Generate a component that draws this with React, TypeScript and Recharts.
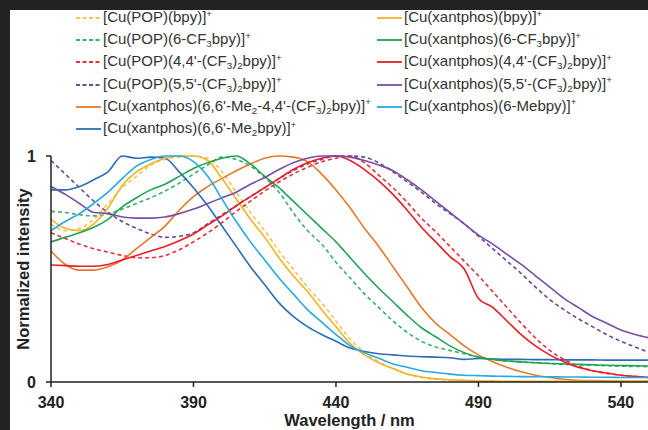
import React from "react";
import { LineChart, Line, XAxis, YAxis, Label } from "recharts";

// wavelength grid (nm)
const wavelengths = [
  340, 345, 350, 355, 360, 365, 370, 375, 380, 385, 390, 395, 400, 405, 410,
  415, 420, 425, 430, 435, 440, 445, 450, 455, 460, 465, 470, 475, 480, 485,
  490, 495, 500, 505, 510, 515, 520, 525, 530, 535, 540, 545, 550,
];

const xTicks = [340, 390, 440, 490, 540];
const yTicks = [0, 1];

// normalized intensities
const popBpy = [
  0.7, 0.67, 0.68, 0.72, 0.79, 0.86, 0.91, 0.96, 0.985, 0.995,
  1.0, 0.99, 0.93, 0.84, 0.75, 0.67, 0.58, 0.5, 0.42, 0.35,
  0.27, 0.19, 0.13, 0.09, 0.06, 0.035, 0.02, 0.012, 0.008, 0.006,
  0.004, 0.003, 0.002, 0.002, 0.002, 0.002, 0.002, 0.002, 0.002, 0.002,
  0.002, 0.002, 0.002,
];
const popCF3 = [
  0.755, 0.75, 0.74, 0.735, 0.745, 0.765, 0.79, 0.815, 0.845, 0.88,
  0.92, 0.96, 0.995, 0.985, 0.955, 0.905, 0.84, 0.75, 0.67, 0.61,
  0.53, 0.46, 0.39, 0.33, 0.27, 0.22, 0.18, 0.155, 0.14, 0.125,
  0.11, 0.1, 0.093, 0.089, 0.085, 0.082, 0.078, 0.076, 0.074, 0.072,
  0.07, 0.069, 0.068,
];
const pop44 = [
  0.66, 0.635, 0.61, 0.59, 0.575, 0.56, 0.55, 0.55, 0.56, 0.585,
  0.62, 0.66, 0.705, 0.755, 0.8, 0.845, 0.885, 0.92, 0.95, 0.975,
  0.99, 1.0, 0.97, 0.915, 0.86, 0.795, 0.725, 0.665, 0.6, 0.535,
  0.47, 0.4, 0.33, 0.26, 0.195, 0.14, 0.1, 0.07, 0.05, 0.038,
  0.03, 0.024, 0.02,
];
const pop55 = [
  0.98, 0.92, 0.86, 0.8, 0.75, 0.71, 0.68, 0.655, 0.64, 0.645,
  0.66, 0.7, 0.74, 0.78, 0.82, 0.86, 0.9, 0.935, 0.965, 0.985,
  1.0, 1.0, 0.995, 0.97, 0.93, 0.885, 0.84, 0.79, 0.745, 0.7,
  0.645, 0.59, 0.535, 0.48, 0.42, 0.365, 0.32, 0.28, 0.245, 0.21,
  0.18, 0.155, 0.13,
];
const xBpy = [
  0.72, 0.68, 0.67, 0.7, 0.77, 0.87, 0.93, 0.965, 0.99, 1.0,
  1.0, 0.98, 0.9, 0.81, 0.72, 0.64, 0.55, 0.47, 0.4, 0.32,
  0.245, 0.17, 0.12, 0.085, 0.06, 0.035, 0.022, 0.014, 0.01, 0.007,
  0.005, 0.004, 0.003, 0.003, 0.003, 0.003, 0.003, 0.003, 0.003, 0.003,
  0.003, 0.003, 0.003,
];
const xCF3 = [
  0.62, 0.64, 0.66, 0.685, 0.72, 0.775, 0.815, 0.85, 0.875, 0.91,
  0.945, 0.97, 0.99, 1.0, 0.965, 0.91, 0.86, 0.8, 0.74, 0.68,
  0.62, 0.55, 0.48, 0.415, 0.355, 0.295, 0.24, 0.2, 0.16, 0.13,
  0.11, 0.1, 0.093, 0.089, 0.085, 0.082, 0.08, 0.078, 0.076, 0.074,
  0.073, 0.072, 0.071,
];
const x44 = [
  0.518, 0.515, 0.512, 0.512, 0.52, 0.54, 0.56, 0.58, 0.6, 0.625,
  0.655, 0.695, 0.735, 0.78, 0.82, 0.86, 0.9, 0.94, 0.97, 0.99,
  1.0, 0.98, 0.94, 0.89, 0.83, 0.76, 0.685, 0.62, 0.555, 0.5,
  0.37, 0.33, 0.27, 0.21, 0.16, 0.12, 0.09, 0.065, 0.05, 0.04,
  0.03, 0.025, 0.02,
];
const x55 = [
  0.865, 0.83, 0.79, 0.75, 0.745, 0.73, 0.725, 0.725, 0.73, 0.745,
  0.765, 0.79, 0.815, 0.84, 0.875, 0.905, 0.94, 0.97, 0.99, 1.0,
  1.0, 0.995, 0.98, 0.96, 0.935, 0.895, 0.85, 0.8, 0.75, 0.7,
  0.65, 0.61, 0.565, 0.52, 0.47, 0.42, 0.37, 0.33, 0.29, 0.26,
  0.23, 0.21, 0.195,
];
const xMe2CF3 = [
  0.58, 0.52, 0.495, 0.495, 0.51, 0.54, 0.59, 0.64, 0.69, 0.76,
  0.82, 0.865, 0.9, 0.935, 0.965, 0.99, 1.0, 0.995, 0.975, 0.92,
  0.85, 0.77, 0.68, 0.6, 0.51, 0.42, 0.33, 0.26, 0.21, 0.16,
  0.12, 0.09, 0.065, 0.045, 0.03, 0.02, 0.012, 0.008, 0.006, 0.005,
  0.004, 0.003, 0.003,
];
const xMebpy = [
  0.67, 0.71, 0.745, 0.79, 0.84, 0.9, 0.955, 0.985, 1.0, 1.0,
  0.975, 0.91, 0.81, 0.71, 0.62, 0.54, 0.46, 0.39, 0.32, 0.265,
  0.21, 0.16, 0.13, 0.105, 0.08, 0.065, 0.05, 0.042, 0.035, 0.03,
  0.028, 0.026, 0.025, 0.024, 0.023, 0.023, 0.022, 0.022, 0.021, 0.021,
  0.02, 0.02, 0.02,
];
const xMe2 = [
  0.85, 0.85, 0.865, 0.895, 0.93, 1.0, 0.99, 0.995, 0.99, 0.93,
  0.86, 0.78, 0.69, 0.6, 0.51, 0.43, 0.35, 0.29, 0.245, 0.21,
  0.18, 0.15, 0.135, 0.125, 0.12, 0.115, 0.112, 0.11, 0.107, 0.1,
  0.104, 0.102, 0.1, 0.1, 0.099, 0.099, 0.098, 0.098, 0.098, 0.097,
  0.097, 0.097, 0.097,
];

type Series = {
  key: string;
  label: string; // _x = subscript, ^x = superscript
  color: string;
  dashed: boolean;
  values: number[];
};

const series: Series[] = [
  { key: "popBpy", label: "[Cu(POP)(bpy)]^+", color: "#f6c35a", dashed: true, values: popBpy },
  { key: "popCF3", label: "[Cu(POP)(6-CF_3bpy)]^+", color: "#3cad6c", dashed: true, values: popCF3 },
  { key: "pop44", label: "[Cu(POP)(4,4'-(CF_3)_2bpy)]^+", color: "#e62f3d", dashed: true, values: pop44 },
  { key: "pop55", label: "[Cu(POP)(5,5'-(CF_3)_2bpy)]^+", color: "#674a96", dashed: true, values: pop55 },
  { key: "xMe2CF3", label: "[Cu(xantphos)(6,6'-Me_2-4,4'-(CF_3)_2bpy)]^+", color: "#e6782b", dashed: false, values: xMe2CF3 },
  { key: "xMe2", label: "[Cu(xantphos)(6,6'-Me_2bpy)]^+", color: "#2d6cb3", dashed: false, values: xMe2 },
  { key: "xBpy", label: "[Cu(xantphos)(bpy)]^+", color: "#f0b425", dashed: false, values: xBpy },
  { key: "xCF3", label: "[Cu(xantphos)(6-CF_3bpy)]^+", color: "#1ea453", dashed: false, values: xCF3 },
  { key: "x44", label: "[Cu(xantphos)(4,4'-(CF_3)_2bpy)]^+", color: "#ec1c26", dashed: false, values: x44 },
  { key: "x55", label: "[Cu(xantphos)(5,5'-(CF_3)_2bpy)]^+", color: "#7a4da2", dashed: false, values: x55 },
  { key: "xMebpy", label: "[Cu(xantphos)(6-Mebpy)]^+", color: "#27a9e1", dashed: false, values: xMebpy },
];

const leftKeys = ["popBpy", "popCF3", "pop44", "pop55", "xMe2CF3", "xMe2"];
const rightKeys = ["xBpy", "xCF3", "x44", "x55", "xMebpy"];

const data = wavelengths.map((w, i) => {
  const row: Record<string, number> = { w };
  series.forEach((s) => {
    row[s.key] = s.values[i];
  });
  return row;
});

function richLabel(text: string) {
  const parts: React.ReactNode[] = [];
  let buf = "";
  for (let i = 0; i < text.length; i++) {
    const c = text[i];
    if ((c === "_" || c === "^") && i + 1 < text.length) {
      if (buf) parts.push(buf);
      buf = "";
      parts.push(
        <span
          key={i}
          style={{
            fontSize: "0.65em",
            position: "relative",
            top: c === "_" ? "0.3em" : "-0.55em",
          }}
        >
          {text[i + 1]}
        </span>
      );
      i++;
    } else {
      buf += c;
    }
  }
  if (buf) parts.push(buf);
  return parts;
}

function LegendColumn({ keys, x }: { keys: string[]; x: number }) {
  return (
    <>
      {keys.map((k, i) => {
        const s = series.find((d) => d.key === k)!;
        return (
          <div
            key={k}
            style={{
              position: "absolute",
              left: x,
              top: 18 + i * 22.2 - 10,
              height: 20,
              display: "flex",
              alignItems: "center",
              whiteSpace: "nowrap",
            }}
          >
            <svg width={25} height={4} style={{ marginRight: 2 }}>
              <line
                x1={0}
                y1={2}
                x2={25}
                y2={2}
                stroke={s.color}
                strokeWidth={1.8}
                strokeDasharray={s.dashed ? "4 2.5" : undefined}
              />
            </svg>
            <span style={{ fontSize: 15, color: "#333", lineHeight: "20px" }}>
              {richLabel(s.label)}
            </span>
          </div>
        );
      })}
    </>
  );
}

export default function App() {
  return (
    <div
      style={{
        position: "absolute",
        left: 0,
        top: 0,
        width: 648,
        height: 430,
        background: "#222",
        overflow: "hidden",
        fontFamily: "Arial, 'Liberation Sans', sans-serif",
      }}
    >
      <div
        style={{
          position: "absolute",
          left: 10,
          top: 10,
          right: 0,
          bottom: 0,
          background: "#fff",
        }}
      />
      <LegendColumn keys={leftKeys} x={76} />
      <LegendColumn keys={rightKeys} x={377} />
      <div style={{ position: "absolute", left: 0, top: 0 }}>
        <LineChart
          width={648}
          height={430}
          data={data}
          margin={{ top: 156, right: 0, bottom: 18, left: 0 }}
        >
          <XAxis
            dataKey="w"
            type="number"
            domain={[340, 549.5]}
            ticks={xTicks}
            allowDataOverflow
            height={30}
            tickSize={5}
            tickMargin={10}
            stroke="#222"
            strokeWidth={1.5}
            tick={{ fill: "#222", fontSize: 16, fontWeight: 700 }}
          >
            <Label
              value="Wavelength / nm"
              position="bottom"
              offset={2}
              style={{ fill: "#222", fontSize: 16.5, fontWeight: 700 }}
            />
          </XAxis>
          <YAxis
            type="number"
            domain={[0, 1]}
            ticks={yTicks}
            width={51}
            tickSize={5}
            tickMargin={10}
            stroke="#222"
            strokeWidth={1.5}
            tick={{ fill: "#222", fontSize: 16, fontWeight: 700 }}
          >
            <Label
              value="Normalized intensity"
              angle={-90}
              position="center"
              dx={-2.5}
              style={{ fill: "#222", fontSize: 16.5, fontWeight: 700 }}
            />
          </YAxis>
          {series.map((s) => (
            <Line
              key={s.key}
              dataKey={s.key}
              type="monotone"
              stroke={s.color}
              strokeWidth={1.6}
              strokeDasharray={s.dashed ? "4 3" : undefined}
              dot={false}
              activeDot={false}
              isAnimationActive={false}
            />
          ))}
        </LineChart>
      </div>
    </div>
  );
}
